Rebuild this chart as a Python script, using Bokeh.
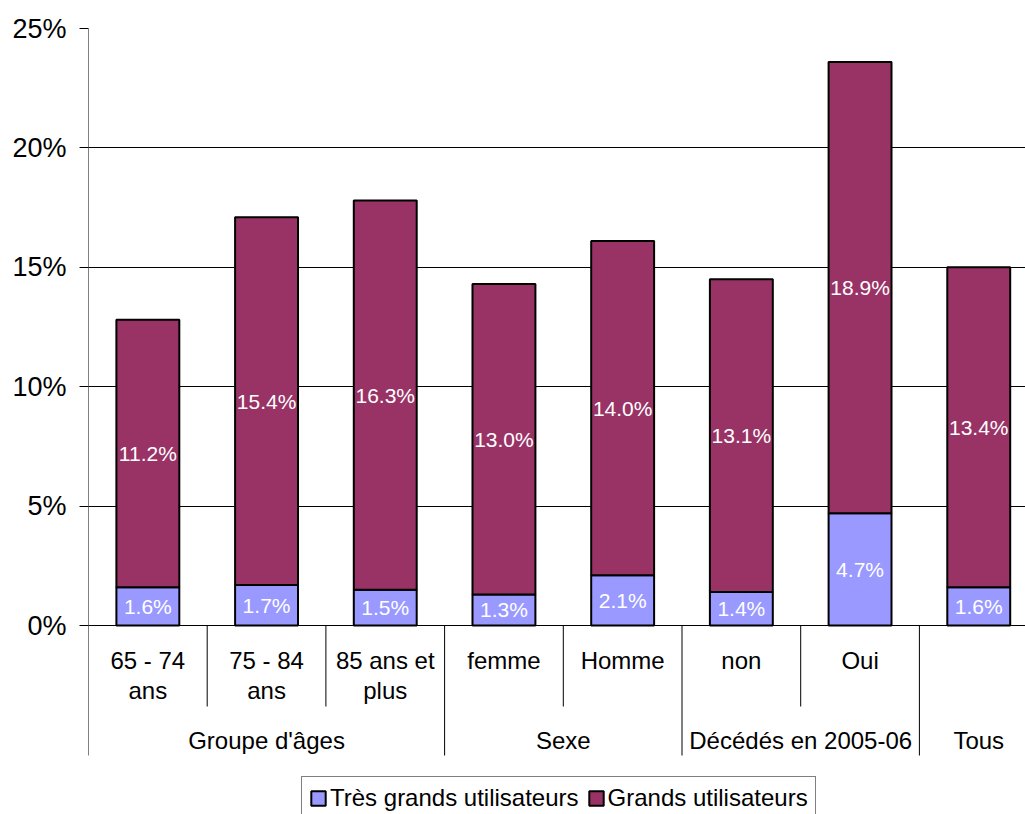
from bokeh.plotting import figure
from bokeh.models import (ColumnDataSource, Range1d, FixedTicker, CustomJSTickFormatter,
                          Legend, LegendItem)
from bokeh.core.properties import value
from bokeh.embed import file_html
from bokeh.resources import INLINE

# ---- data -------------------------------------------------------------
categories = ["65 - 74\nans", "75 - 84\nans", "85 ans et\nplus", "femme", "Homme",
              "non", "Oui", ""]
groups = ["Groupe d'âges", "Groupe d'âges", "Groupe d'âges", "Sexe", "Sexe",
          "Décédés en 2005-06", "Décédés en 2005-06", "Tous"]
tres_grands = [1.6, 1.7, 1.5, 1.3, 2.1, 1.4, 4.7, 1.6]
grands = [11.2, 15.4, 16.3, 13.0, 14.0, 13.1, 18.9, 13.4]
series_names = ["Très grands utilisateurs", "Grands utilisateurs"]
y_ticks = [0, 5, 10, 15, 20, 25]

# ---- style ------------------------------------------------------------
FONT = "Liberation Sans"
BLUE = "#9999FF"
MAROON = "#993366"

W, H = 1025, 814
LEFT, TOP = 88, 28
SLOT_PX = 118.7           # width of one category slot
PX_PER_PCT = 23.88        # vertical scale
frame_w = W - LEFT
frame_h = H - TOP
y_top = 25
y_bottom = y_top - frame_h / PX_PER_PCT
x_end = frame_w / SLOT_PX


def py(px_below_zero):
    """Offset in pixels below the zero line -> data units."""
    return -px_below_zero / PX_PER_PCT


p = figure(width=W, height=H, output_backend="svg", toolbar_location=None,
           x_axis_type=None, x_range=Range1d(0, x_end), y_range=Range1d(y_bottom, y_top),
           min_border_left=LEFT, min_border_right=0, min_border_top=TOP,
           min_border_bottom=0)
p.outline_line_color = None
p.background_fill_color = "white"
p.border_fill_color = "white"

# y axis
ax = p.yaxis[0]
ax.ticker = FixedTicker(ticks=y_ticks)
ax.formatter = CustomJSTickFormatter(code="return tick + '%';")
ax.axis_line_color = None
ax.major_tick_out = 9
ax.major_tick_in = 0
ax.major_tick_line_color = "black"
ax.minor_tick_line_color = None
ax.major_label_standoff = 13
ax.major_label_text_font = FONT
ax.major_label_text_font_size = "27px"
ax.major_label_text_color = "black"
p.ygrid.ticker = FixedTicker(ticks=y_ticks)
p.ygrid.grid_line_color = "black"
p.ygrid.grid_line_width = 1

# ---- stacked bars -----------------------------------------------------
xs = [i + 0.5 for i in range(len(categories))]
src = ColumnDataSource(dict(x=xs, tres=tres_grands, grands=grands))
rs = p.vbar_stack(["tres", "grands"], x="x", width=0.53, source=src,
                  fill_color=[BLUE, MAROON], line_color="black", line_width=2)

# value labels centred in each segment
lx, ly, lt = [], [], []
for x, a, b in zip(xs, tres_grands, grands):
    lx += [x, x]
    ly += [a / 2, a + b / 2]
    lt += [f"{a:.1f}%", f"{b:.1f}%"]
p.text(x=lx, y=ly, text=lt, text_align="center", text_baseline="middle",
       text_color="white", text_font=value(FONT), text_font_size="21px")

# ---- two-level category axis ------------------------------------------
n = len(categories)
group_starts = [i for i in range(n) if i == 0 or groups[i] != groups[i - 1]]
inner_end = py(81)
group_end = py(130)
sx, sy0, sy1 = [], [], []
for b in range(n):
    sx.append(b)
    if b == 0:
        sy0.append(y_top)
        sy1.append(group_end)
    elif b in group_starts:
        sy0.append(0)
        sy1.append(group_end)
    else:
        sy0.append(0)
        sy1.append(inner_end)
p.segment(x0=sx, y0=sy0, x1=sx, y1=sy1, line_color="black", line_width=1)

cx, cy, ct = [], [], []
line_y = [py(35), py(65)]
for i, lab in enumerate(categories):
    for k, part in enumerate(lab.split("\n")):
        if part:
            cx.append(i + 0.5)
            cy.append(line_y[k])
            ct.append(part)
p.text(x=cx, y=cy, text=ct, text_align="center", text_baseline="alphabetic",
       text_color="black", text_font=value(FONT), text_font_size="24px")

gx, gt = [], []
bounds = group_starts + [n]
for s, e in zip(bounds[:-1], bounds[1:]):
    gx.append((s + e) / 2)
    gt.append(groups[s])
p.text(x=gx, y=[py(115)] * len(gx), text=gt, text_align="center",
       text_baseline="alphabetic", text_color="black", text_font=value(FONT),
       text_font_size="24px")

# ---- legend -----------------------------------------------------------
legend = Legend(items=[LegendItem(label=series_names[0], renderers=[rs[0]]),
                       LegendItem(label=series_names[1], renderers=[rs[1]])],
                orientation="horizontal", location=(213, -6))
legend.glyph_width = 18
legend.glyph_height = 18
legend.label_standoff = 3
legend.spacing = 8
legend.padding = 7
legend.margin = 0
legend.label_text_font = FONT
legend.label_text_font_size = "24px"
legend.label_text_color = "black"
legend.border_line_color = "black"
legend.border_line_width = 1
legend.background_fill_color = "white"
legend.background_fill_alpha = 1
p.add_layout(legend, "center")

open("out.html", "w").write(file_html(p, INLINE))
